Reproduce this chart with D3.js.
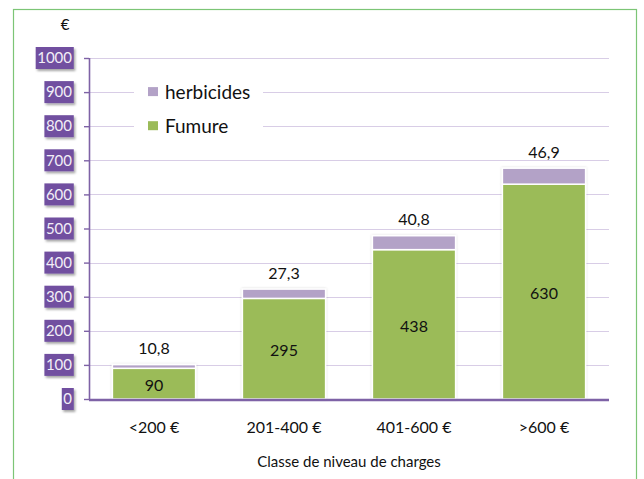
<!DOCTYPE html>
<html>
<head>
<meta charset="utf-8">
<script src="https://cdn.jsdelivr.net/npm/d3@7"></script>
<style>
  html, body { margin: 0; padding: 0; background: #fff; }
  svg { display: block; font-family: Lato, "Open Sans", sans-serif; }
</style>
</head>
<body>
<svg id="chart" width="644" height="479"></svg>
<script>
// Charges par classe de niveau (€)
const categories = ["<200 €", "201-400 €", "401-600 €", ">600 €"];
const fumure = [90, 295, 438, 630];
const herbicides = [10.8, 27.3, 40.8, 46.9];
const herbicideLabels = ["10,8", "27,3", "40,8", "46,9"];
const yTicks = [0, 100, 200, 300, 400, 500, 600, 700, 800, 900, 1000];
const seriesNames = ["herbicides", "Fumure"];

const colGreen = "#9bbb59";
const colPurple = "#b3a2c7";
const axisPurple = "#7e62a6";
const gridPurple = "#d8cde6";
const labelBox = "#7150a0";

const svg = d3.select("#chart");
const plotL = 89, plotR = 609, plotT = 58, plotB = 399;

const defs = svg.append("defs");
const sh = defs.append("filter").attr("id", "shadow")
  .attr("x", "-20%").attr("y", "-20%").attr("width", "150%").attr("height", "160%");
sh.append("feDropShadow").attr("dx", 1.5).attr("dy", 2).attr("stdDeviation", 1.2)
  .attr("flood-color", "#000").attr("flood-opacity", 0.35);
const glow = defs.append("filter").attr("id", "glow")
  .attr("x", "-10%").attr("y", "-10%").attr("width", "120%").attr("height", "120%");
glow.append("feDropShadow").attr("dx", 0).attr("dy", 0).attr("stdDeviation", 1.2)
  .attr("flood-color", "#000").attr("flood-opacity", 0.18);

// outer frame
svg.append("rect").attr("x", 13.5).attr("y", 9.5).attr("width", 623).attr("height", 480)
  .attr("fill", "#fff").attr("stroke", "#7cc576").attr("stroke-width", 1.2);

const x = d3.scaleBand().domain(categories).range([plotL, plotR])
  .paddingInner(0.36).paddingOuter(0.18);
const y = d3.scaleLinear().domain([0, 1000]).range([plotB, plotT]);

// gridlines
svg.append("g").selectAll("line").data(yTicks.filter(d => d > 0)).join("line")
  .attr("x1", plotL).attr("x2", plotR)
  .attr("y1", d => Math.round(y(d)) + 0.5).attr("y2", d => Math.round(y(d)) + 0.5)
  .attr("stroke", gridPurple).attr("stroke-width", 1.2);

// legend (white panel over the gridlines)
const legend = svg.append("g");
legend.append("rect").attr("x", 134).attr("y", 76).attr("width", 129).attr("height", 64).attr("fill", "#fff");
const legendColors = [colPurple, colGreen];
const legendRows = legend.selectAll("g").data(seriesNames).join("g")
  .attr("transform", (d, i) => `translate(148, ${y(900 - i * 100)})`);
legendRows.append("rect").attr("x", 0).attr("y", -5).attr("width", 10).attr("height", 9)
  .attr("fill", (d, i) => legendColors[i]);
legendRows.append("text").attr("x", 17).attr("dy", "0.36em")
  .attr("font-size", 19).attr("fill", "#111").text(d => d);

// stacked bars
const bars = svg.append("g");
categories.forEach((c, i) => {
  const g = bars.append("g").attr("filter", "url(#glow)");
  g.append("rect")
    .attr("x", x(c)).attr("width", x.bandwidth())
    .attr("y", y(fumure[i])).attr("height", y(0) - y(fumure[i]))
    .attr("fill", colGreen).attr("stroke", "#fff").attr("stroke-width", 1.5);
  g.append("rect")
    .attr("x", x(c)).attr("width", x.bandwidth())
    .attr("y", y(fumure[i] + herbicides[i])).attr("height", y(fumure[i]) - y(fumure[i] + herbicides[i]))
    .attr("fill", colPurple).attr("stroke", "#fff").attr("stroke-width", 1.5);
});

// value labels
const lab = svg.append("g").attr("font-size", 16).attr("fill", "#111").attr("text-anchor", "middle");
categories.forEach((c, i) => {
  const cx = x(c) + x.bandwidth() / 2;
  lab.append("text").attr("x", cx).attr("y", (y(0) + y(fumure[i])) / 2 + 2).attr("dy", "0.35em")
    .text(fumure[i]);
  lab.append("text").attr("x", cx).attr("y", y(fumure[i] + herbicides[i]) - 16).attr("dy", "0.35em")
    .text(herbicideLabels[i]);
});

// y axis
const yAxis = svg.append("g").attr("transform", `translate(${plotL},0)`)
  .call(d3.axisLeft(y).tickValues(yTicks).tickSize(5).tickFormat(""));
yAxis.select(".domain").attr("stroke", axisPurple).attr("stroke-width", 1.6).attr("d", `M0.5,${plotT}V${plotB + 1}`);
yAxis.selectAll(".tick line").attr("stroke", axisPurple).attr("stroke-width", 1.4);

// y tick labels on purple tags
const tags = svg.append("g");
yTicks.forEach(t => {
  const g = tags.append("g").attr("transform", `translate(72, ${y(t)})`);
  const txt = g.append("text").attr("text-anchor", "end").attr("dy", "0.35em")
    .attr("font-size", 15).attr("fill", "#f2eef7").text(t);
  const b = txt.node().getBBox();
  g.insert("rect", "text").attr("x", b.x - 1.5).attr("y", -11).attr("width", b.width + 3).attr("height", 22)
    .attr("fill", labelBox).attr("filter", "url(#shadow)");
});

// x axis
const xAxis = svg.append("g").attr("transform", `translate(0,${plotB + 1})`)
  .call(d3.axisBottom(x).tickSize(0).tickPadding(22));
xAxis.select(".domain").attr("stroke", axisPurple).attr("stroke-width", 2.6).attr("d", `M${plotL},0H${plotR}`);
xAxis.selectAll(".tick text").attr("font-size", 16).attr("fill", "#111")
  .attr("font-family", "Lato, 'Open Sans', sans-serif");

// titles
svg.append("text").attr("x", (plotL + plotR) / 2).attr("y", 462).attr("dy", "0.35em")
  .attr("text-anchor", "middle").attr("font-size", 15).attr("fill", "#111")
  .text("Classe de niveau de charges");
svg.append("text").attr("x", 65).attr("y", 25).attr("dy", "0.35em")
  .attr("text-anchor", "middle").attr("font-size", 15).attr("fill", "#111").text("€");
</script>
</body>
</html>
